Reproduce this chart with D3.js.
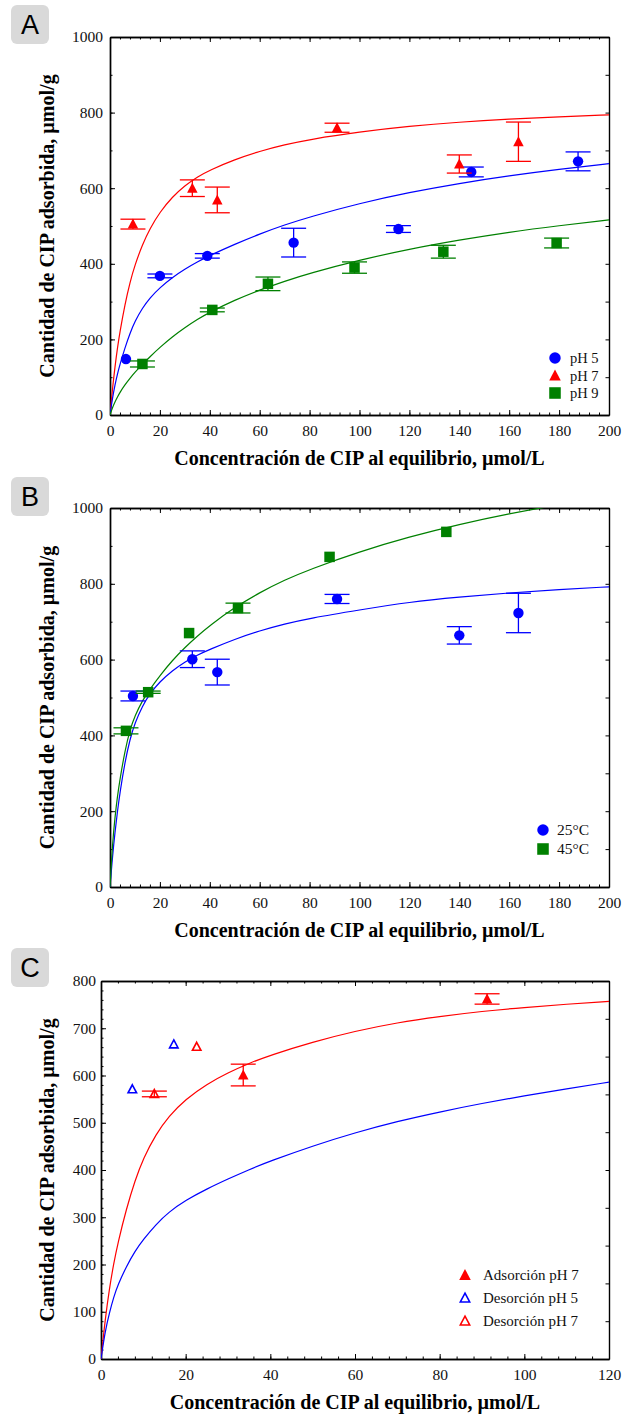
<!DOCTYPE html>
<html>
<head>
<meta charset="utf-8">
<script src="https://cdn.jsdelivr.net/npm/d3@7/dist/d3.min.js"></script>
<style>
  body { margin: 0; background: #fff; }
  svg text { font-family: "Liberation Serif", "Times New Roman", serif; }
</style>
</head>
<body>
<script>
// ---------- data ----------
// Panel A, measured points (Ce in umol/L, q in umol/g, err = half error bar)
var ph5X = [6.4, 20, 39, 73.6, 115.6, 144.8, 187.6];
var ph5Y = [148, 368, 421, 456, 492, 643, 671];
var ph5E = [0, 5, 6, 38, 9, 13, 25];

var ph7X = [9.2, 33, 43, 91, 140, 163.7];
var ph7Y = [505, 600, 569, 760, 664, 723];
var ph7E = [13, 22, 34, 12, 24, 52];

var ph9X = [13, 41, 63.3, 98, 133.6, 179];
var ph9Y = [135, 278, 347, 390, 432, 455];
var ph9E = [8, 5, 18, 15, 17, 13];

// Panel A, fitted isotherms
var fitX = [0, 1, 2, 3, 4, 6, 8, 10, 13, 16, 20, 25, 30, 35, 40, 50, 60, 70, 80, 100, 120, 140, 160, 180, 200];
var fitAred   = [0, 70, 128, 178, 221, 293, 351, 397, 451, 493, 537, 577, 607, 630, 648, 676, 698, 715, 729, 749, 764, 775, 783, 789, 794];
var fitAblue  = [0, 45, 80, 109, 134, 178, 216, 248, 283, 310, 337, 364, 386, 405, 422, 452, 479, 503, 524, 560, 589, 613, 633, 650, 665];
var fitAgreen = [0, 20, 35, 48, 60, 80, 97, 113, 134, 154, 179, 207, 231, 253, 272, 304, 331, 354, 375, 410, 439, 463, 484, 501, 516];

// Panel B, temperature
var t25X = [9.2, 33, 43, 91, 140, 163.7];
var t25Y = [504, 601, 567, 760, 664, 723];
var t25E = [13, 22, 34, 12, 23, 52];

var t45X = [6.4, 15.3, 31.7, 51.3, 88, 134.8];
var t45Y = [412, 514, 670, 736, 871, 937];
var t45E = [8, 3, 0, 13, 0, 0];

var fitBblue  = [0, 80, 145, 200, 250, 330, 390, 433, 478, 510, 542, 571, 594, 612, 627, 654, 676, 694, 709, 731, 752, 765, 776, 785, 792];
var fitBgreen = [0, 115, 185, 240, 285, 360, 415, 452, 492, 522, 558, 598, 632, 662, 690, 738, 777, 810, 838, 885, 924, 957, 985, 1009, 1030];

// Panel C, adsorption / desorption
var adsX = [33.6, 91.2];
var adsY = [601, 762];
var adsE = [23, 11];

var des5X = [7.4, 17.2];
var des5Y = [571, 666];

var des7X = [12.6, 22.6];
var des7Y = [561, 661];
var des7E = [6, 0];

var fitXC = [0, 1, 2, 3, 4, 6, 8, 10, 13, 16, 20, 25, 30, 35, 40, 50, 60, 70, 80, 90, 100, 110, 120];
var fitCred  = [0, 85, 150, 202, 246, 318, 377, 425, 476, 514, 550, 582, 606, 626, 643, 671, 694, 712, 725, 736, 744, 751, 757];
var fitCblue = [0, 60, 98, 131, 157, 196, 228, 253, 285, 311, 336, 360, 381, 401, 419, 451, 479, 503, 523, 541, 557, 572, 586];

// axis ticks
var xTicksAB = d3.range(0, 201, 20), xMinorAB = d3.range(0, 201, 4);
var yTicksAB = d3.range(0, 1001, 200), yMinorAB = d3.range(0, 1001, 100), yRightAB = d3.range(100, 1000, 100);
var xTicksC = d3.range(0, 121, 20), xMinorC = d3.range(0, 121, 4);
var yTicksC = d3.range(0, 801, 100), yMinorC = d3.range(0, 801, 20), yRightC = d3.range(80, 800, 80);

var legA = ["pH 5", "pH 7", "pH 9"];
var legB = ["25\u00b0C", "45\u00b0C"];
var legC = ["Adsorci\u00f3n pH 7", "Desorci\u00f3n pH 5", "Desorci\u00f3n pH 7"];

var yTitle = "Cantidad de CIP adsorbida, \u00b5mol/g";
var xTitle = "Concentraci\u00f3n de CIP al equilibrio, \u00b5mol/L";

var BLUE = "#0000ff", RED = "#ff0000", GREEN = "#008000";
var SERIF = "'Liberation Serif', 'Times New Roman', serif";

// ---------- drawing ----------
var svg = d3.select("body").append("svg").attr("width", 625).attr("height", 1416);

function zip(xs, ys, es) {
  return xs.map(function (d, i) { return { x: d, y: ys[i], e: es ? es[i] : 0 }; });
}

// triangle centred on the point
function triPath(w, h) {
  return "M0," + (-h * 0.55) + "L" + (w / 2) + "," + (h * 0.45) + "L" + (-w / 2) + "," + (h * 0.45) + "Z";
}

function marker(g, kind, color, px, py, big) {
  var k = big ? 1.1 : 1;
  if (kind === "circle") {
    g.append("circle").attr("cx", px).attr("cy", py).attr("r", 5.2 * k).attr("fill", color);
  } else if (kind === "square") {
    var s = 10.5 * k;
    g.append("rect").attr("x", px - s / 2).attr("y", py - s / 2).attr("width", s).attr("height", s).attr("fill", color);
  } else if (kind === "tri") {
    g.append("path").attr("d", triPath(10.5 * k, 10 * k)).attr("transform", "translate(" + px + "," + py + ")").attr("fill", color);
  } else if (kind === "open") {
    g.append("path").attr("d", triPath(8.5 * k, 8 * k)).attr("transform", "translate(" + px + "," + py + ")")
      .attr("fill", "none").attr("stroke", color).attr("stroke-width", 1.6);
  }
}

var panelId = 0;
function panel(p) {
  panelId++;
  var x = d3.scaleLinear().domain(p.xDom).range([p.left, p.right]);
  var y = d3.scaleLinear().domain(p.yDom).range([p.bottom, p.top]);
  var g = svg.append("g");

  // panel letter
  g.append("rect").attr("x", 11).attr("y", p.boxY).attr("width", 38).attr("height", 39)
    .attr("rx", 6).attr("fill", "#d9d9d9");
  g.append("text").attr("x", 30).attr("y", p.boxY + 29).attr("text-anchor", "middle")
    .style("font-family", "'Liberation Sans', Arial, sans-serif").style("font-size", "27px").text(p.letter);

  // axes, ticks pointing inward
  function ax(gen, tr, vals, size, labels, pad) {
    var a = gen.tickValues(vals).tickSize(size).tickSizeOuter(0);
    if (labels) a.tickFormat(d3.format("d")).tickPadding(pad); else a.tickFormat("");
    var ga = g.append("g").attr("transform", tr).call(a)
      .attr("font-family", SERIF).attr("font-size", 15.5);
    ga.select(".domain").attr("stroke", "#000").attr("stroke-width", 1.4);
    ga.selectAll(".tick line").attr("stroke", "#000").attr("stroke-width", 1);
    ga.selectAll("text").attr("fill", "#111").style("font-family", SERIF).style("font-size", "15.5px");
    return ga;
  }
  var bt = "translate(0," + p.bottom + ")", tp = "translate(0," + p.top + ")";
  var lf = "translate(" + p.left + ",0)", rt = "translate(" + p.right + ",0)";
  ax(d3.axisBottom(x), bt, p.xMinor, -2.5, false);
  ax(d3.axisBottom(x), bt, p.xTicks, -5, true, 10);
  ax(d3.axisTop(x), tp, p.xMinor, -2.5, false);
  ax(d3.axisTop(x), tp, p.xTicks, -5, false);
  ax(d3.axisLeft(y), lf, p.yMinor, -2.5, false);
  ax(d3.axisLeft(y), lf, p.yTicks, -5, true, p.yPad);
  ax(d3.axisRight(y), rt, p.yRight, -3.5, false);

  // titles
  g.append("text").attr("x", (p.left + p.right) / 2).attr("y", p.bottom + 50).attr("text-anchor", "middle")
    .style("font-size", "20px").style("font-weight", "bold").text(xTitle);
  g.append("text").attr("transform", "translate(54," + ((p.top + p.bottom) / 2) + ") rotate(-90)")
    .attr("text-anchor", "middle").style("font-size", "20px").style("font-weight", "bold").text(yTitle);

  // clip
  var cid = "clip" + panelId;
  svg.append("clipPath").attr("id", cid).append("rect")
    .attr("x", p.left).attr("y", p.top).attr("width", p.right - p.left).attr("height", p.bottom - p.top);

  var line = d3.line().x(function (d) { return x(d.x); }).y(function (d) { return y(d.y); })
    .curve(d3.curveBasis);
  p.fits.forEach(function (f) {
    g.append("path").datum(zip(f.x, f.y)).attr("d", line).attr("fill", "none")
      .attr("stroke", f.color).attr("stroke-width", 1.2).attr("clip-path", "url(#" + cid + ")");
  });

  p.series.forEach(function (s) {
    var pts = s.data;
    var eg = g.append("g").attr("stroke", s.color).attr("stroke-width", 1.3);
    pts.filter(function (d) { return d.e > 0; }).forEach(function (d) {
      var cx = x(d.x), y0 = y(d.y - d.e), y1 = y(d.y + d.e);
      eg.append("line").attr("x1", cx).attr("x2", cx).attr("y1", y0).attr("y2", y1);
      eg.append("line").attr("x1", cx - 12.5).attr("x2", cx + 12.5).attr("y1", y0).attr("y2", y0);
      eg.append("line").attr("x1", cx - 12.5).attr("x2", cx + 12.5).attr("y1", y1).attr("y2", y1);
    });
    pts.forEach(function (d) { marker(g, s.kind, s.color, x(d.x), y(d.y)); });
  });

  // legend
  p.series.forEach(function (s, i) {
    var ly = p.leg.y + i * p.leg.dy;
    marker(g, s.kind, s.color, p.leg.x, ly, true);
    g.append("text").attr("x", p.leg.x + p.leg.tx).attr("y", ly + 5).style("font-size", p.leg.fs + "px")
      .attr("fill", "#111").text(s.name);
  });
}

panel({
  letter: "A", boxY: 5, left: 110, right: 609, top: 37, bottom: 415, yPad: 7,
  xDom: [0, 200], yDom: [0, 1000],
  xTicks: xTicksAB, xMinor: xMinorAB, yTicks: yTicksAB, yMinor: yMinorAB, yRight: yRightAB,
  fits: [{ x: fitX, y: fitAred, color: RED }, { x: fitX, y: fitAblue, color: BLUE }, { x: fitX, y: fitAgreen, color: GREEN }],
  series: [
    { name: legA[0], kind: "circle", color: BLUE, data: zip(ph5X, ph5Y, ph5E) },
    { name: legA[1], kind: "tri", color: RED, data: zip(ph7X, ph7Y, ph7E) },
    { name: legA[2], kind: "square", color: GREEN, data: zip(ph9X, ph9Y, ph9E) }
  ],
  leg: { x: 555, y: 358, dy: 17.5, tx: 15, fs: 14.5 }
});

panel({
  letter: "B", boxY: 477, left: 110, right: 609, top: 508, bottom: 887, yPad: 7,
  xDom: [0, 200], yDom: [0, 1000],
  xTicks: xTicksAB, xMinor: xMinorAB, yTicks: yTicksAB, yMinor: yMinorAB, yRight: yRightAB,
  fits: [{ x: fitX, y: fitBblue, color: BLUE }, { x: fitX, y: fitBgreen, color: GREEN }],
  series: [
    { name: legB[0], kind: "circle", color: BLUE, data: zip(t25X, t25Y, t25E) },
    { name: legB[1], kind: "square", color: GREEN, data: zip(t45X, t45Y, t45E) }
  ],
  leg: { x: 543, y: 830, dy: 19, tx: 14, fs: 15.5 }
});

panel({
  letter: "C", boxY: 948, left: 101, right: 609, top: 981, bottom: 1359, yPad: 5,
  xDom: [0, 120], yDom: [0, 800],
  xTicks: xTicksC, xMinor: xMinorC, yTicks: yTicksC, yMinor: yMinorC, yRight: yRightC,
  fits: [{ x: fitXC, y: fitCred, color: RED }, { x: fitXC, y: fitCblue, color: BLUE }],
  series: [
    { name: legC[0], kind: "tri", color: RED, data: zip(adsX, adsY, adsE) },
    { name: legC[1], kind: "open", color: BLUE, data: zip(des5X, des5Y) },
    { name: legC[2], kind: "open", color: RED, data: zip(des7X, des7Y, des7E) }
  ],
  leg: { x: 465, y: 1275, dy: 23, tx: 18, fs: 15 }
});
</script>
</body>
</html>
